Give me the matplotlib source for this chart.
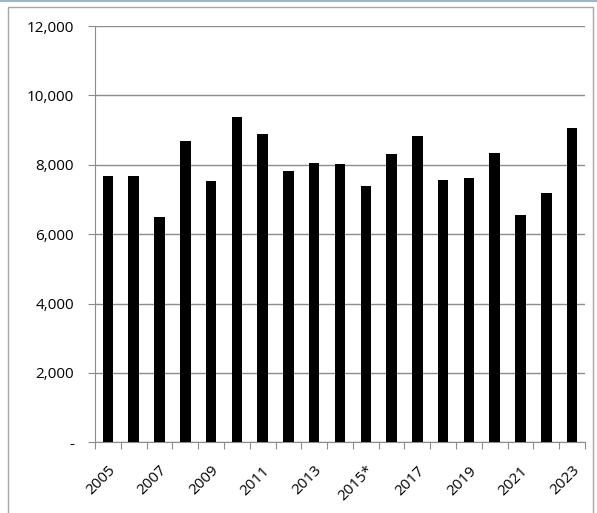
import matplotlib.pyplot as plt
from matplotlib.patches import Rectangle
from matplotlib.ticker import FuncFormatter

# Data
years = ['2005', '2006', '2007', '2008', '2009', '2010', '2011', '2012', '2013', '2014',
         '2015*', '2016', '2017', '2018', '2019', '2020', '2021', '2022', '2023']
values = [7670, 7670, 6500, 8690, 7520, 9370, 8890, 7810, 8060, 8010,
          7380, 8300, 8830, 7570, 7610, 8350, 6540, 7180, 9070]
y_ticks = [0, 2000, 4000, 6000, 8000, 10000, 12000]

plt.rcParams['font.family'] = ['Open Sans', 'DejaVu Sans']

fig = plt.figure(figsize=(5.97, 5.13), dpi=100)
ax = fig.add_axes([95 / 597, 1 - 442.3 / 513, 490 / 597, 416.3 / 513])

# outer chart border
fig.patches.append(Rectangle((8 / 597, -0.05), 585 / 597, 1 - 7 / 513 + 0.05,
                             transform=fig.transFigure, fill=False,
                             edgecolor='#a6a6a6', linewidth=1))
fig.patches.append(Rectangle((0, 1 - 2 / 513), 1, 2 / 513, transform=fig.transFigure,
                             color='#9db3d6', linewidth=0))

x = range(len(years))
ax.bar(x, values, width=0.41, color='black', zorder=3)

ax.set_xlim(-0.5, len(years) - 0.5)
ax.set_ylim(0, 12000)
ax.set_yticks(y_ticks)
ax.yaxis.set_major_formatter(FuncFormatter(lambda v, p: '-' if v == 0 else f'{int(v):,}'))
ax.grid(axis='y', color='#8c8c8c', linewidth=1, zorder=0)

# ticks on category boundaries, labels on every other bar
ax.set_xticks([i - 0.5 for i in range(len(years) + 1)])
ax.set_xticklabels([])
ax.set_xticks(list(x)[::2], minor=True)
ax.set_xticklabels(years[::2], minor=True, rotation=45, ha='right', va='top',
                   rotation_mode='anchor', fontsize=11)
ax.tick_params(axis='x', which='minor', length=0, pad=15)
ax.tick_params(axis='x', which='major', length=5, color='#8c8c8c')
ax.tick_params(axis='y', length=5, color='#8c8c8c', pad=10, labelsize=11)

for side in ['top', 'right']:
    ax.spines[side].set_visible(False)
for side in ['left', 'bottom']:
    ax.spines[side].set_color('#8c8c8c')

fig.savefig('out.png', dpi=100)
